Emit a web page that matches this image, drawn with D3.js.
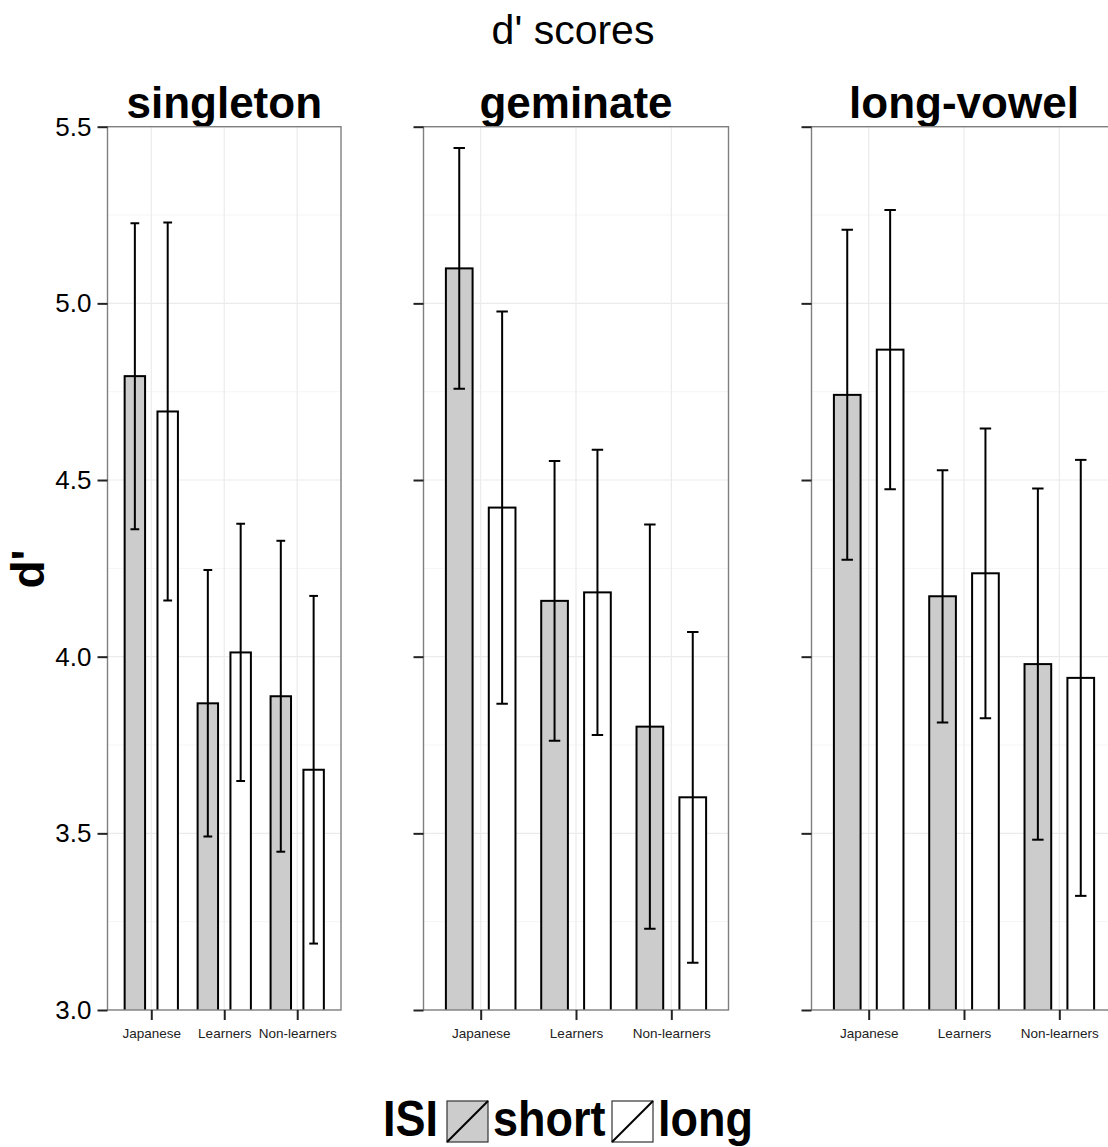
<!DOCTYPE html>
<html>
<head>
<meta charset="utf-8">
<script src="https://cdn.jsdelivr.net/npm/d3@7"></script>
<style>
  html, body { margin: 0; padding: 0; background: #fff; }
  svg { display: block; font-family: "Liberation Sans", Arial, Helvetica, sans-serif; }
</style>
</head>
<body>
<svg id="chart" width="1108" height="1147"></svg>
<script>
// Facets, groups and ISI conditions
const panels = ["singleton", "geminate", "long-vowel"];
const groups = ["Japanese", "Learners", "Non-learners"];
const isiLevels = ["short", "long"];

// Mean d' per facet (rows) and group (columns)
const meanShort = [[4.794, 3.868, 3.888], [5.099, 4.158, 3.802], [4.741, 4.171, 3.979]];
const meanLong  = [[4.694, 4.012, 3.680], [4.422, 4.182, 3.602], [4.869, 4.236, 3.940]];
// Half-width of the error bars
const errShort  = [[0.433, 0.377, 0.440], [0.341, 0.396, 0.572], [0.467, 0.357, 0.497]];
const errLong   = [[0.535, 0.364, 0.492], [0.555, 0.404, 0.468], [0.395, 0.410, 0.617]];

const yTicks = [3.0, 3.5, 4.0, 4.5, 5.0, 5.5];
const yMinor = [3.25, 3.75, 4.25, 4.75, 5.25];
const yDomain = [3.0, 5.5];

const fills = { short: "#cccccc", long: "#ffffff" };

const svg = d3.select("#chart");

// Panel geometry
const panelTop = 126.7, panelBottom = 1010;
const panelX = [[107.5, 341], [423.5, 728.5], [811.5, 1116.5]];

const y = d3.scaleLinear().domain(yDomain).range([panelBottom, panelTop]);

// Main title
svg.append("text")
  .attr("x", 573).attr("y", 44)
  .attr("text-anchor", "middle")
  .attr("font-size", 41)
  .text("d' scores");

// Y axis title
svg.append("text")
  .attr("transform", "translate(44,569) rotate(-90)")
  .attr("text-anchor", "middle")
  .attr("font-size", 46)
  .attr("font-weight", "bold")
  .text("d'");

const defs = svg.append("defs");

panels.forEach((name, pi) => {
  const [x0, x1] = panelX[pi];
  const x = d3.scalePoint().domain(groups).range([x0, x1]).padding(0.6);
  const step = x.step();
  const barW = 0.28 * step;
  const dodge = 0.225 * step;
  const capW = 0.12 * step;

  const g = svg.append("g");

  // Strip title
  g.append("text")
    .attr("x", (x0 + x1) / 2).attr("y", 118)
    .attr("text-anchor", "middle")
    .attr("font-size", 44)
    .attr("font-weight", "bold")
    .text(name);

  const clipId = "clip" + pi;
  defs.append("clipPath").attr("id", clipId)
    .append("rect").attr("x", x0).attr("y", panelTop).attr("width", x1 - x0).attr("height", panelBottom - panelTop);

  const inner = g.append("g").attr("clip-path", `url(#${clipId})`);

  // Grid: minor horizontals, major horizontals, verticals at categories
  inner.selectAll("line.minor").data(yMinor).join("line")
    .attr("x1", x0).attr("x2", x1)
    .attr("y1", d => y(d)).attr("y2", d => y(d))
    .attr("stroke", "#f5f5f5").attr("stroke-width", 1);
  inner.selectAll("line.major").data(yTicks).join("line")
    .attr("x1", x0).attr("x2", x1)
    .attr("y1", d => y(d)).attr("y2", d => y(d))
    .attr("stroke", "#ebebeb").attr("stroke-width", 1.2);
  inner.selectAll("line.vmajor").data(groups).join("line")
    .attr("x1", d => x(d)).attr("x2", d => x(d))
    .attr("y1", panelTop).attr("y2", panelBottom)
    .attr("stroke", "#ebebeb").attr("stroke-width", 1.2);

  // Bars and error bars
  const rows = [];
  groups.forEach((grp, gi) => {
    rows.push({ grp, isi: "short", mean: meanShort[pi][gi], err: errShort[pi][gi], off: -dodge });
    rows.push({ grp, isi: "long", mean: meanLong[pi][gi], err: errLong[pi][gi], off: dodge });
  });

  inner.selectAll("rect.bar").data(rows).join("rect")
    .attr("x", d => x(d.grp) + d.off - barW / 2)
    .attr("width", barW)
    .attr("y", d => y(d.mean))
    .attr("height", d => y(yDomain[0]) - y(d.mean) + 10)
    .attr("fill", d => fills[d.isi])
    .attr("stroke", "#000").attr("stroke-width", 2);

  const eb = inner.selectAll("g.eb").data(rows).join("g")
    .attr("stroke", "#000").attr("stroke-width", 2);
  eb.append("line")
    .attr("x1", d => x(d.grp) + d.off).attr("x2", d => x(d.grp) + d.off)
    .attr("y1", d => y(d.mean + d.err)).attr("y2", d => y(d.mean - d.err));
  eb.append("line")
    .attr("x1", d => x(d.grp) + d.off - capW / 2).attr("x2", d => x(d.grp) + d.off + capW / 2)
    .attr("y1", d => y(d.mean + d.err)).attr("y2", d => y(d.mean + d.err));
  eb.append("line")
    .attr("x1", d => x(d.grp) + d.off - capW / 2).attr("x2", d => x(d.grp) + d.off + capW / 2)
    .attr("y1", d => y(d.mean - d.err)).attr("y2", d => y(d.mean - d.err));

  // Panel border
  g.append("rect")
    .attr("x", x0).attr("y", panelTop).attr("width", x1 - x0).attr("height", panelBottom - panelTop)
    .attr("fill", "none").attr("stroke", "#7f7f7f").attr("stroke-width", 1.4);

  // Y axis ticks (labels only on the first facet)
  const yAxis = d3.axisLeft(y).tickValues(yTicks).tickSize(10).tickPadding(6)
    .tickFormat(pi === 0 ? d3.format(".1f") : () => "");
  const ya = g.append("g").attr("transform", `translate(${x0},0)`).call(yAxis);
  ya.select(".domain").remove();
  ya.selectAll(".tick line").attr("stroke", "#222").attr("stroke-width", 2);
  ya.selectAll(".tick text").attr("font-size", 26).attr("fill", "#000")
    .attr("font-family", "Liberation Sans, Arial, sans-serif");

  // X axis
  const xAxis = d3.axisBottom(x).tickSize(10).tickPadding(8);
  const xa = g.append("g").attr("transform", `translate(0,${panelBottom})`).call(xAxis);
  xa.select(".domain").remove();
  xa.selectAll(".tick line").attr("stroke", "#222").attr("stroke-width", 2);
  xa.selectAll(".tick text").attr("font-size", 13.5).attr("fill", "#222")
    .attr("font-family", "Liberation Sans, Arial, sans-serif");
});

// Legend (text slightly stretched vertically, as in the bold legend face)
const legend = svg.append("g").attr("font-weight", "bold").attr("font-size", 45);
const legendBase = 1136;
legend.append("text")
  .attr("transform", `translate(383,${legendBase}) scale(1,1.1)`)
  .text("ISI");
const keyX = [447, 612];
const labX = [493, 658];
isiLevels.forEach((lv, i) => {
  legend.append("rect")
    .attr("x", keyX[i]).attr("y", 1101).attr("width", 41).attr("height", 41)
    .attr("fill", fills[lv]).attr("stroke", "#333").attr("stroke-width", 1.2);
  legend.append("line")
    .attr("x1", keyX[i]).attr("y1", 1142).attr("x2", keyX[i] + 41).attr("y2", 1101)
    .attr("stroke", "#000").attr("stroke-width", 2);
  legend.append("text")
    .attr("transform", `translate(${labX[i]},${legendBase}) scale(1,1.1)`)
    .text(lv);
});
</script>
</body>
</html>
